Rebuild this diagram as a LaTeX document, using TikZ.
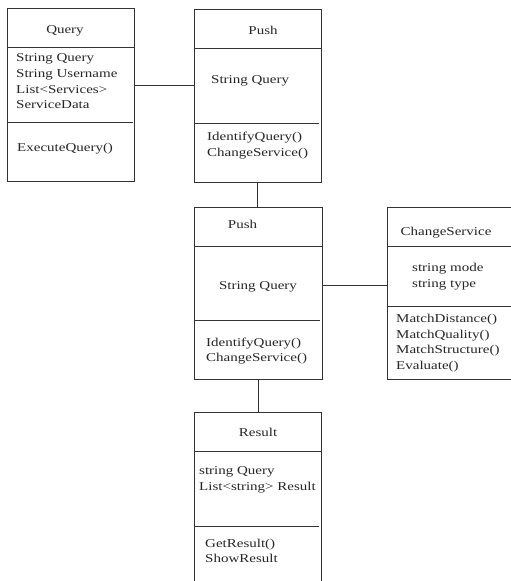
\documentclass[tikz,border=0pt]{standalone}
\usepackage{fontspec}
\setmainfont{Liberation Serif}[FakeStretch=1.25]

\begin{document}
\begin{tikzpicture}[
  x=1pt, y=-1pt,
  font=\fontsize{12pt}{15.6pt}\selectfont,
  cls/.style={draw=black!80, line width=1pt, inner sep=0pt},
  sep/.style={draw=black!80, line width=1pt},
  txt/.style={inner sep=0pt, align=left, anchor=north west, text=black!85},
  ttl/.style={inner sep=0pt, anchor=base, text=black!85},
  link/.style={draw=black!80, line width=1pt}
]
\clip (0,0) rectangle (511,581);

% Klassen (Rahmen)
\node[cls, minimum width=127pt, minimum height=173pt] (query) at (70.5,94.5) {};
\node[cls, minimum width=127pt, minimum height=173pt] (pushA) at (257.5,95.5) {};
\node[cls, minimum width=128pt, minimum height=172pt] (pushB) at (258,293) {};
\node[cls, minimum width=143pt, minimum height=172pt] (change) at (458.5,293) {};
\node[cls, minimum width=127pt, minimum height=188pt] (result) at (257.5,506) {};

% Trennlinien
\draw[sep] (query.west |- 0,47) -- (query.east |- 0,47);
\draw[sep] (query.west |- 0,122) -- ([xshift=-2pt]query.east |- 0,122);
\draw[sep] (pushA.west |- 0,48) -- (pushA.east |- 0,48);
\draw[sep] (pushA.west |- 0,123) -- ([xshift=-3pt]pushA.east |- 0,123);
\draw[sep] (pushB.west |- 0,246) -- (pushB.east |- 0,246);
\draw[sep] (pushB.west |- 0,320) -- ([xshift=-3pt]pushB.east |- 0,320);
\draw[sep] (change.west |- 0,246) -- (change.east |- 0,246);
\draw[sep] (change.west |- 0,306) -- (change.east |- 0,306);
\draw[sep] (result.west |- 0,451) -- (result.east |- 0,451);
\draw[sep] (result.west |- 0,526) -- ([xshift=-3pt]result.east |- 0,526);

% Query
\node[ttl] (queryT) at (65,33) {Query};
\node[txt] (queryA) at (16,53.8) {String Query\\String Username\\List<Services>\\ServiceData};
\node[txt] (queryM) at (17,142.8) {ExecuteQuery()};

% Push (oben)
\node[ttl] (pushAT) at (263,34) {Push};
\node[txt] (pushAA) at (211,75.8) {String Query};
\node[txt] (pushAM) at (207,131.8) {IdentifyQuery()\\ChangeService()};

% Push (mitte)
\node[ttl] (pushBT) at (242.5,228) {Push};
\node[ttl] (pushBA) at (258,289) {String Query};
\node[txt] (pushBM) at (206,337.5) {IdentifyQuery()\\ChangeService()};

% ChangeService
\node[ttl] (changeT) at (446,235) {ChangeService};
\node[txt] (changeA) at (412,263) {string mode\\string type};
\node[txt] (changeM) at (396,314) {MatchDistance()\\MatchQuality()\\MatchStructure()\\Evaluate()};

% Result
\node[ttl] (resultT) at (258,436) {Result};
\node[txt] (resultA) at (199,466.8) {string Query\\List<string> Result};
\node[txt] (resultM) at (205,538.8) {GetResult()\\ShowResult};

% Verbindungen
\draw[link] ([yshift=9.5pt]query.east) -- ([yshift=9.5pt]query.east -| pushA.west);
\draw[link] (pushA.south) -- (pushA.south |- pushB.north);
\draw[link] ([yshift=8pt]pushB.east) -- ([yshift=8pt]pushB.east -| change.west);
\draw[link] (pushB.south) -- (pushB.south |- result.north);

\end{tikzpicture}
\end{document}
